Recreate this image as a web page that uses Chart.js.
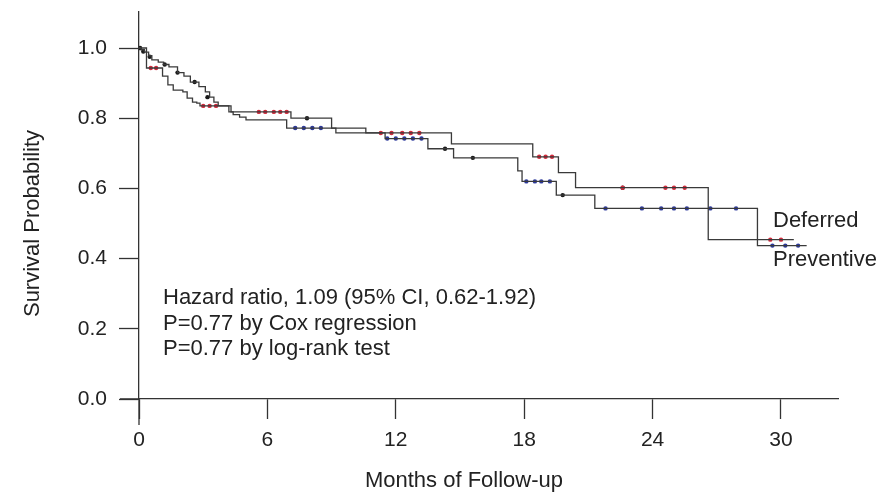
<!DOCTYPE html>
<html><head><meta charset="utf-8">
<script src="https://cdn.jsdelivr.net/npm/chart.js@4.4.1/dist/chart.umd.min.js"></script>
<style>html,body{margin:0;padding:0;background:#fff;}#wrap{width:882px;height:494px;position:relative;}</style>
</head><body><div id="wrap"><canvas id="c"></canvas></div>
<script>
// ---- data ----
const xTicks = [0, 6, 12, 18, 24, 30];
const yTicks = [0.0, 0.2, 0.4, 0.6, 0.8, 1.0];

const deferredTimes = [0, 0.35, 1.1, 1.35, 1.6, 2.05, 2.25, 2.5, 2.7, 2.85, 4.3, 7.1, 9.0, 10.6, 14.6, 18.4, 19.6, 20.4, 26.6, 30.6];
const deferredSurv  = [1.0, 0.943, 0.92, 0.895, 0.88, 0.875, 0.857, 0.846, 0.843, 0.835, 0.818, 0.80, 0.772, 0.758, 0.727, 0.69, 0.645, 0.602, 0.454, 0.454];

const preventiveTimes = [0, 0.1, 0.25, 0.45, 0.6, 0.9, 1.15, 1.4, 1.8, 2.1, 2.4, 2.8, 3.1, 3.3, 3.5, 3.7, 4.2, 4.4, 4.7, 5.0, 6.9, 9.2, 11.5, 13.5, 14.7, 17.7, 17.9, 19.5, 21.3, 28.9, 31.2];
const preventiveSurv  = [1.0, 0.995, 0.988, 0.978, 0.966, 0.96, 0.953, 0.946, 0.93, 0.92, 0.903, 0.89, 0.875, 0.86, 0.846, 0.835, 0.818, 0.81, 0.803, 0.795, 0.772, 0.758, 0.742, 0.713, 0.687, 0.65, 0.62, 0.581, 0.543, 0.437, 0.437];

// censoring marks
const redMarkT = [0.55, 0.8, 3.0, 3.3, 3.6, 5.6, 5.9, 6.3, 6.6, 6.9, 11.3, 11.8, 12.3, 12.7, 13.1, 18.7, 19.0, 19.3, 22.6, 24.6, 25.0, 25.5, 29.5, 30.0];
const redMarkS = [0.943, 0.943, 0.835, 0.835, 0.835, 0.818, 0.818, 0.818, 0.818, 0.818, 0.758, 0.758, 0.758, 0.758, 0.758, 0.69, 0.69, 0.69, 0.602, 0.602, 0.602, 0.602, 0.454, 0.454];
const blueMarkT = [7.3, 7.7, 8.1, 8.5, 11.6, 12.0, 12.4, 12.8, 13.2, 18.1, 18.5, 18.8, 19.2, 21.8, 23.5, 24.4, 25.0, 25.6, 26.7, 27.9, 29.6, 30.2, 30.8];
const blueMarkS = [0.772, 0.772, 0.772, 0.772, 0.742, 0.742, 0.742, 0.742, 0.742, 0.62, 0.62, 0.62, 0.62, 0.543, 0.543, 0.543, 0.543, 0.543, 0.543, 0.543, 0.437, 0.437, 0.437];
const blackMarkT = [0.05, 0.2, 0.5, 1.2, 1.8, 2.6, 3.2, 7.85, 14.3, 15.6, 19.8, 22.6];
const blackMarkS = [1.0, 0.99, 0.975, 0.953, 0.93, 0.903, 0.86, 0.80, 0.713, 0.687, 0.581, 0.602];

const annotationLines = ['Hazard ratio, 1.09 (95% CI, 0.62-1.92)', 'P=0.77 by Cox regression', 'P=0.77 by log-rank test'];
const groupLabels = ['Deferred', 'Preventive'];
const xTitle = 'Months of Follow-up';
const yTitle = 'Survival Probability';

// ---- chart ----
const FAMILY = "'Liberation Sans', Arial, Helvetica, sans-serif";
const INK = '#222';
const AXIS = '#333';
const pts = (t, s) => t.map((v, i) => ({x: v, y: s[i]}));

const decor = {
  id: 'decor',
  afterDraw(chart) {
    const ctx = chart.ctx, xs = chart.scales.x, ys = chart.scales.y;
    const x0 = xs.getPixelForValue(0), y0 = ys.getPixelForValue(0);
    ctx.save();
    ctx.strokeStyle = AXIS; ctx.lineWidth = 1.3;
    ctx.beginPath();
    ctx.moveTo(x0 - 19, y0); ctx.lineTo(x0, y0);
    ctx.moveTo(x0, y0); ctx.lineTo(x0, y0 + 26);
    ctx.stroke();
    ctx.fillStyle = INK;
    ctx.font = '22px ' + FAMILY;
    ctx.textBaseline = 'middle';
    // axis titles
    ctx.textAlign = 'center';
    ctx.fillText(xTitle, xs.getPixelForValue(15) + 4, 481);
    ctx.save();
    ctx.translate(33, ys.getPixelForValue(0.5));
    ctx.rotate(-Math.PI / 2);
    ctx.fillText(yTitle, 0, 0);
    ctx.restore();
    // statistics annotation
    ctx.textAlign = 'left';
    annotationLines.forEach((s, i) => ctx.fillText(s, 163, 298 + i * 25.5));
    // group labels
    ctx.fillText(groupLabels[0], 773, 221);
    ctx.fillText(groupLabels[1], 773, 260);
    ctx.restore();
  }
};

const noPad = s => { s.paddingTop = 0; s.paddingBottom = 0; s.paddingLeft = 0; s.paddingRight = 0; };
const tickFont = {size: 21, family: FAMILY};
new Chart(document.getElementById('c'), {
  type: 'line',
  data: {
    datasets: [
      {label: 'Deferred', data: pts(deferredTimes, deferredSurv), stepped: true, borderColor: '#3a3a3a', borderWidth: 1.3, pointRadius: 0, fill: false},
      {label: 'Preventive', data: pts(preventiveTimes, preventiveSurv), stepped: true, borderColor: '#3a3a3a', borderWidth: 1.3, pointRadius: 0, fill: false},
      {label: 'red marks', data: pts(redMarkT, redMarkS), showLine: false, pointRadius: 2.2, pointBackgroundColor: '#d42a3c', pointBorderWidth: 0},
      {label: 'blue marks', data: pts(blueMarkT, blueMarkS), showLine: false, pointRadius: 2.2, pointBackgroundColor: '#2c399c', pointBorderWidth: 0},
      {label: 'black marks', data: pts(blackMarkT, blackMarkS), showLine: false, pointRadius: 2.2, pointBackgroundColor: '#1a1a1a', pointBorderWidth: 0}
    ]
  },
  options: {
    responsive: true, maintainAspectRatio: false, animation: false, devicePixelRatio: 1,
    layout: {padding: {left: 0, right: 44, top: 12, bottom: 0}},
    plugins: {legend: {display: false}, tooltip: {enabled: false}},
    scales: {
      x: {
        type: 'linear', min: 0, max: 32.664,
        afterBuildTicks: s => { s.ticks = xTicks.map(v => ({value: v})); },
        afterFit: s => { s.height = 95; noPad(s); },
        grid: {drawOnChartArea: false, drawTicks: true, tickLength: 20, color: AXIS, tickWidth: 1.3},
        border: {display: true, color: AXIS, width: 1.3},
        ticks: {color: INK, font: tickFont, padding: 9, maxRotation: 0, autoSkip: false, callback: v => String(v)}
      },
      y: {
        type: 'linear', min: 0, max: 1.1026,
        afterBuildTicks: s => { s.ticks = yTicks.map(v => ({value: v})); },
        afterFit: s => { s.width = 139; noPad(s); },
        grid: {drawOnChartArea: false, drawTicks: true, tickLength: 20, color: AXIS, tickWidth: 1.3},
        border: {display: true, color: AXIS, width: 1.3},
        ticks: {color: INK, font: tickFont, padding: 12, callback: v => Number(v).toFixed(1)}
      }
    }
  },
  plugins: [decor]
});
</script></body></html>
